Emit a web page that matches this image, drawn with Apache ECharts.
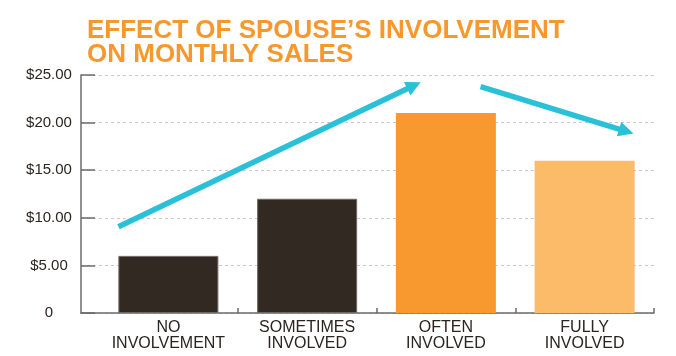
<!DOCTYPE html>
<html>
<head>
<meta charset="utf-8">
<script src="https://cdn.jsdelivr.net/npm/echarts@6/dist/echarts.min.js"></script>
<style>
html,body{margin:0;padding:0;background:#fff;}
#chart{width:676px;height:356px;}
</style>
</head>
<body>
<div id="chart"></div>
<script>
// ---- data ----
var titleText = 'EFFECT OF SPOUSE\u2019S INVOLVEMENT\nON MONTHLY SALES';
var categories = ['NO\nINVOLVEMENT', 'SOMETIMES\nINVOLVED', 'OFTEN\nINVOLVED', 'FULLY\nINVOLVED'];
var sales = [6, 12, 21, 16];
var barColors = ['#332923', '#332923', '#F7992F', '#FBBB69'];
var yTickLabels = ['0', '$5.00', '$10.00', '$15.00', '$20.00', '$25.00'];
// trend arrows, in category units (x) and dollars (y)
var arrowUp = [[-0.36, 9.06], [1.77, 23.9]];
var arrowDown = [[2.25, 23.77], [3.30, 19.09]];

var textColor = '#2b2421';
var chart = echarts.init(document.getElementById('chart'));
chart.setOption({
  animation: false,
  title: {
    text: titleText,
    left: 82,
    top: 14,
    textStyle: {
      fontFamily: 'Liberation Sans',
      fontWeight: 'bold',
      fontSize: 26,
      lineHeight: 24,
      color: '#F7982F'
    }
  },
  grid: [
    {left: 81, right: 22, top: 75, bottom: 43},
    {left: 99, right: 22, top: 75, bottom: 43}
  ],
  xAxis: [
    {
      gridIndex: 0, type: 'value', min: 0, max: 1,
      axisLine: {show: true, lineStyle: {color: '#6b6b6b', width: 1.5}},
      axisTick: {show: false}, axisLabel: {show: false}, splitLine: {show: false}
    },
    {
      gridIndex: 1, type: 'category', data: categories,
      axisLine: {show: false},
      axisTick: {
        show: true, inside: true, length: 5,
        lineStyle: {color: '#6b6b6b', width: 1.5},
        interval: function (index) { return index !== 0; }
      },
      axisLabel: {
        color: textColor, fontFamily: 'Liberation Sans', fontSize: 16,
        lineHeight: 16, margin: 7, interval: 0
      }
    },
    {
      gridIndex: 1, type: 'value', min: -0.5, max: 3.5, show: false
    }
  ],
  yAxis: [
    {
      gridIndex: 0, type: 'value', min: 0, max: 25, interval: 5,
      axisLine: {show: true, lineStyle: {color: '#6b6b6b', width: 1.5}},
      axisTick: {show: true, inside: true, length: 14, lineStyle: {color: '#6b6b6b', width: 1.5}},
      axisLabel: {
        color: textColor, fontFamily: 'Liberation Sans', fontSize: 15,
        align: 'center', margin: 32,
        formatter: function (v) { return yTickLabels[Math.round(v / 5)]; }
      },
      splitLine: {show: true, lineStyle: {color: '#c8c8c8', type: [3, 3], width: 1}}
    },
    {
      gridIndex: 1, type: 'value', min: 0, max: 25, interval: 5, show: false
    }
  ],
  series: [
    {
      type: 'bar', xAxisIndex: 1, yAxisIndex: 1,
      barWidth: 100,
      data: sales.map(function (v, i) {
        return {
          value: v,
          itemStyle: {
            color: barColors[i],
            borderColor: i < 2 ? '#6f6863' : barColors[i],
            borderWidth: i < 2 ? 1 : 0
          }
        };
      })
    },
    {
      type: 'lines', coordinateSystem: 'cartesian2d',
      xAxisIndex: 2, yAxisIndex: 1,
      symbol: ['none', 'triangle'], symbolSize: [15, 15],
      lineStyle: {color: '#29C0D8', width: 5.5, opacity: 1},
      data: [{coords: arrowUp}, {coords: arrowDown}],
      z: 5
    }
  ]
});
</script>
</body>
</html>
